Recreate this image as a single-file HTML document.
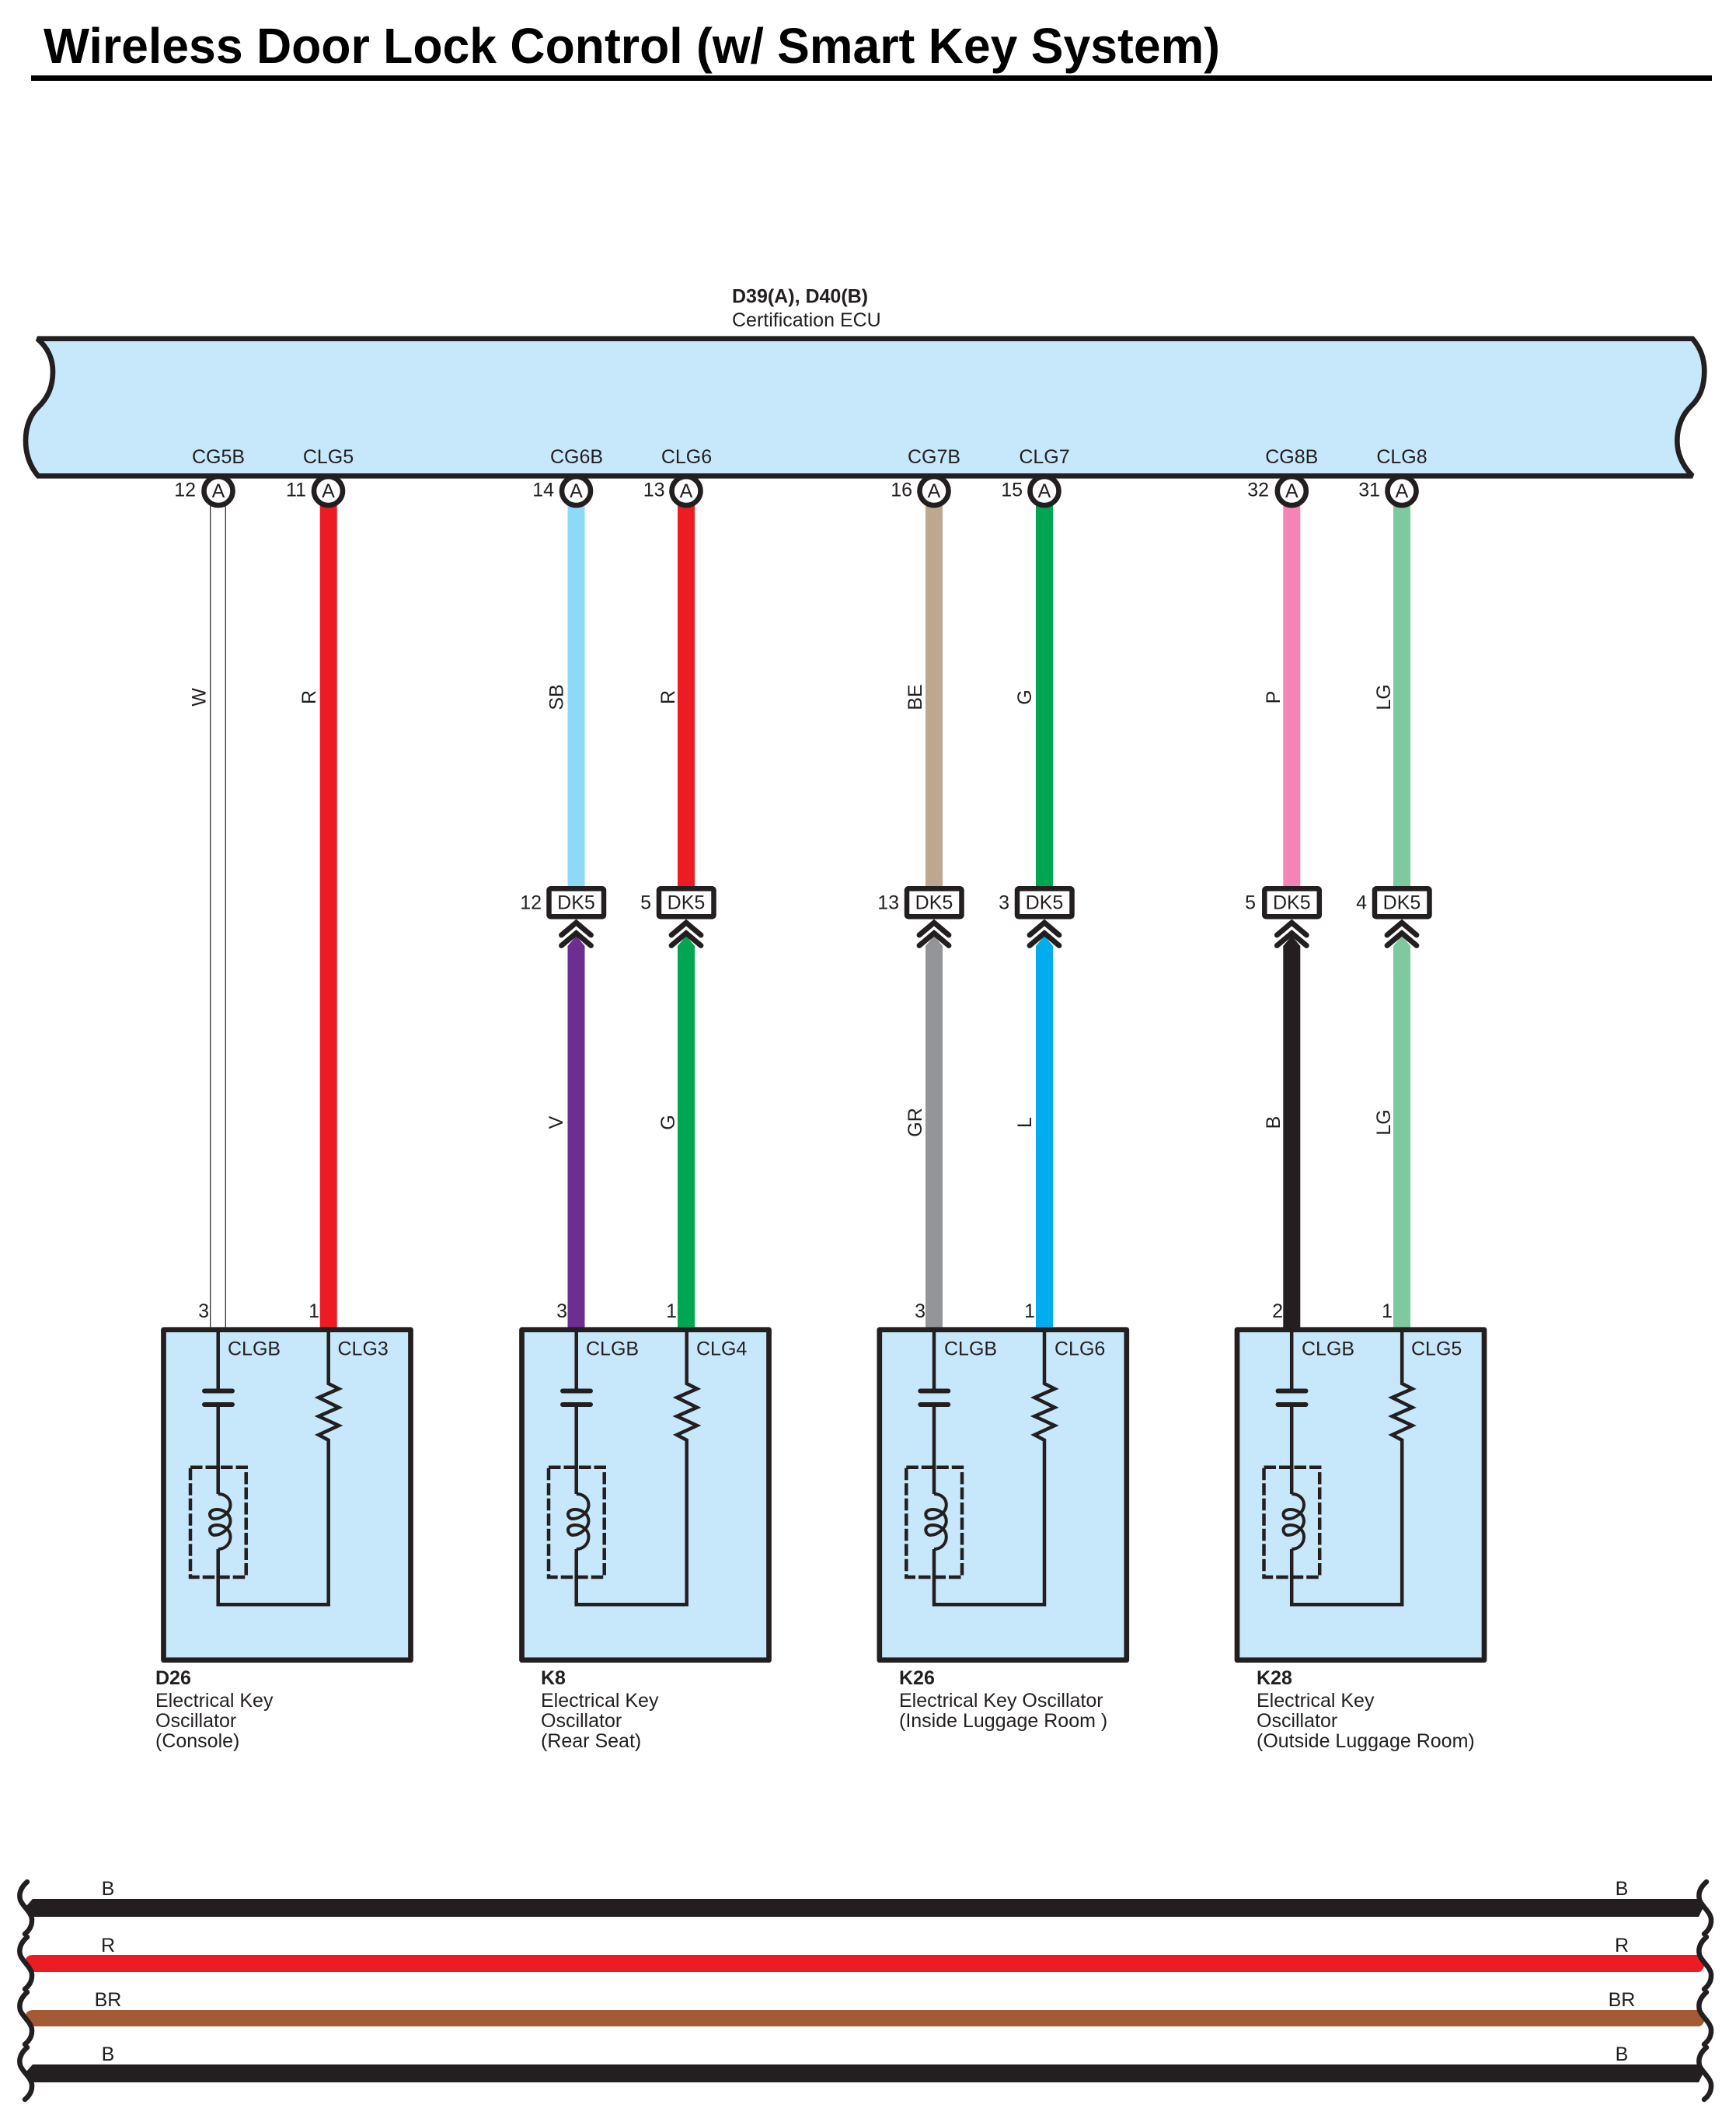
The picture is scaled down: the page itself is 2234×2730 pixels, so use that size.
<!DOCTYPE html>
<html><head><meta charset="utf-8"><style>
html,body{margin:0;padding:0;background:#fff}
svg{display:block}
text{font-family:"Liberation Sans",sans-serif;font-size:25px;fill:#231f20}
.m{text-anchor:middle}.e{text-anchor:end}.b{font-weight:bold}
</style></head><body>
<svg xmlns="http://www.w3.org/2000/svg" width="2234" height="2730" viewBox="0 0 2234 2730">
<defs>
<g id="box">
<rect x="210.5" y="1710.7" width="318" height="425" fill="#c7e8fa" stroke="#231f20" stroke-width="6.7" stroke-linejoin="round"/>
<g fill="none" stroke="#231f20" stroke-width="4.5">
<path d="M280.7 1711V1790M280.7 1807V1922M280.7 1993V2064.3H422.7V1852.7L410 1846L436 1834L410 1822L436 1810.7L410 1798L436 1786.7L422.7 1780V1711"/>
<path d="M263 1789.5H299M263 1807H299" stroke-width="6" stroke-linecap="round"/>
<path d="M280.7 1922C290 1922 296.5 1928 296.5 1936C296.5 1946 285 1954 276 1954C272 1954 270 1951 270 1948C270 1945 273 1942 279 1942C288 1942 296.5 1948 296.5 1957C296.5 1965 286 1975 276 1975C272 1975 270 1971 270 1968C270 1965 273 1962 279 1962C288 1962 296.5 1968 296.5 1977C296.5 1986 290 1993 280.7 1993" stroke-width="4"/>
<rect x="245" y="1887.7" width="71.7" height="141.3" stroke-dasharray="15.5 4"/>
</g>
</g>
<g id="dk">
<rect x="-35" y="1143.3" width="70.5" height="36" rx="2" fill="#fff" stroke="#231f20" stroke-width="6.5"/>
<path d="M-19 1203L0 1187L19 1203M-19 1216.5L0 1200.5L19 1216.5" fill="none" stroke="#231f20" stroke-width="6.8" stroke-linecap="round" stroke-linejoin="miter"/>
</g>
<circle id="pin" r="18.5" fill="#fff" stroke="#231f20" stroke-width="6.6"/>
<path id="sqL" d="M35 2421C27 2428 24 2436 26 2444C29 2453 42 2461 41 2471C41 2478 37 2484 32 2488" fill="none" stroke="#231f20" stroke-width="6.5" stroke-linecap="round"/>
<path id="sqR" d="M2196 2421C2188 2428 2185 2436 2187 2444C2190 2453 2203 2461 2202 2471C2202 2478 2198 2484 2193 2488" fill="none" stroke="#231f20" stroke-width="6.5" stroke-linecap="round"/>
</defs>

<text x="56" y="81" class="b" style="font-size:64px;fill:#000" textLength="1514" lengthAdjust="spacingAndGlyphs">Wireless Door Lock Control (w/ Smart Key System)</text>
<rect x="40" y="97" width="2163" height="7" fill="#000"/>

<text x="942" y="389.5" class="b">D39(A), D40(B)</text>
<text x="942" y="420">Certification ECU</text>

<path d="M48 435.7H2178C2187 446 2193.3 460 2193.3 477C2193.3 497 2188 511 2176.7 522C2165 533 2158.3 549 2158.3 567C2158.3 584 2165 599 2178 612.3H49C38 599 33 584 33 567C33 549 39 533 50 523C62 511 68 497 68 478C68 460 60 446 48 435.7Z" fill="#c7e8fa" stroke="#231f20" stroke-width="6.7" stroke-miterlimit="2"/>

<!-- wires -->
<g>
<rect x="270.7" y="640" width="19.6" height="1070" fill="#fff" stroke="#231f20" stroke-width="1.2"/>
<rect x="411.7" y="640" width="22" height="1070" fill="#ed1c24"/>
<rect x="730.5" y="640" width="22" height="505" fill="#8ed8f8"/>
<rect x="872" y="640" width="22" height="505" fill="#ed1c24"/>
<rect x="1191" y="640" width="22" height="505" fill="#bba88f"/>
<rect x="1333" y="640" width="22" height="505" fill="#00a651"/>
<rect x="1651.3" y="640" width="22" height="505" fill="#f484b4"/>
<rect x="1793" y="640" width="22" height="505" fill="#7fc99e"/>
<path d="M730.5 1708V1217L741.5 1204L752.5 1217V1708Z" fill="#6c2f91"/>
<path d="M872 1708V1217L883 1204L894 1217V1708Z" fill="#00a651"/>
<path d="M1191 1708V1217L1202 1204L1213 1217V1708Z" fill="#939598"/>
<path d="M1333 1708V1217L1344 1204L1355 1217V1708Z" fill="#00aeef"/>
<path d="M1651.3 1708V1217L1662.3 1204L1673.3 1217V1708Z" fill="#231f20"/>
<path d="M1793 1708V1217L1804 1204L1815 1217V1708Z" fill="#7fc99e"/>
</g>

<!-- pins -->
<use href="#pin" x="281" y="631.6"/><use href="#pin" x="422.5" y="631.6"/>
<use href="#pin" x="741.5" y="631.6"/><use href="#pin" x="883" y="631.6"/>
<use href="#pin" x="1202" y="631.6"/><use href="#pin" x="1344" y="631.6"/>
<use href="#pin" x="1662.3" y="631.6"/><use href="#pin" x="1804" y="631.6"/>
<text class="m" x="281" y="640">A</text><text class="m" x="422.5" y="640">A</text>
<text class="m" x="741.5" y="640">A</text><text class="m" x="883" y="640">A</text>
<text class="m" x="1202" y="640">A</text><text class="m" x="1344" y="640">A</text>
<text class="m" x="1662.3" y="640">A</text><text class="m" x="1804" y="640">A</text>
<text class="m" x="281" y="596">CG5B</text><text class="m" x="422.5" y="596">CLG5</text>
<text class="m" x="742" y="596">CG6B</text><text class="m" x="883.5" y="596">CLG6</text>
<text class="m" x="1202" y="596">CG7B</text><text class="m" x="1344" y="596">CLG7</text>
<text class="m" x="1662.3" y="596">CG8B</text><text class="m" x="1804" y="596">CLG8</text>
<text class="e" x="252" y="638.5">12</text><text class="e" x="394" y="638.5">11</text>
<text class="e" x="713" y="638.5">14</text><text class="e" x="855.5" y="638.5">13</text>
<text class="e" x="1174" y="638.5">16</text><text class="e" x="1316" y="638.5">15</text>
<text class="e" x="1633" y="638.5">32</text><text class="e" x="1776" y="638.5">31</text>

<!-- wire labels -->
<text class="m" transform="translate(264.5 897) rotate(-90)">W</text>
<text class="m" transform="translate(406 897) rotate(-90)">R</text>
<text class="m" transform="translate(724.5 897) rotate(-90)">SB</text>
<text class="m" transform="translate(868 897) rotate(-90)">R</text>
<text class="m" transform="translate(1186 897) rotate(-90)">BE</text>
<text class="m" transform="translate(1327 897) rotate(-90)">G</text>
<text class="m" transform="translate(1647 897) rotate(-90)">P</text>
<text class="m" transform="translate(1789 897) rotate(-90)">LG</text>
<text class="m" transform="translate(724 1444) rotate(-90)">V</text>
<text class="m" transform="translate(868 1444) rotate(-90)">G</text>
<text class="m" transform="translate(1186 1444) rotate(-90)">GR</text>
<text class="m" transform="translate(1327 1444) rotate(-90)">L</text>
<text class="m" transform="translate(1647 1444) rotate(-90)">B</text>
<text class="m" transform="translate(1789 1444) rotate(-90)">LG</text>

<!-- DK5 -->
<use href="#dk" x="741.5"/><use href="#dk" x="883"/><use href="#dk" x="1202"/><use href="#dk" x="1344"/><use href="#dk" x="1662.3"/><use href="#dk" x="1804"/>
<text class="m" x="741.5" y="1169.5">DK5</text><text class="m" x="883" y="1169.5">DK5</text>
<text class="m" x="1202" y="1169.5">DK5</text><text class="m" x="1344" y="1169.5">DK5</text>
<text class="m" x="1662.3" y="1169.5">DK5</text><text class="m" x="1804" y="1169.5">DK5</text>
<text class="e" x="697" y="1169.5">12</text><text class="e" x="838" y="1169.5">5</text>
<text class="e" x="1157" y="1169.5">13</text><text class="e" x="1299" y="1169.5">3</text>
<text class="e" x="1616" y="1169.5">5</text><text class="e" x="1759" y="1169.5">4</text>

<!-- boxes -->
<use href="#box"/><use href="#box" x="461"/><use href="#box" x="921.3"/><use href="#box" x="1381.5"/>
<text class="e" x="269" y="1695">3</text><text class="e" x="411" y="1695">1</text>
<text class="e" x="730" y="1695">3</text><text class="e" x="871" y="1695">1</text>
<text class="e" x="1191" y="1695">3</text><text class="e" x="1332" y="1695">1</text>
<text class="e" x="1651" y="1695">2</text><text class="e" x="1792" y="1695">1</text>

<text x="293" y="1743.5">CLGB</text><text x="434.5" y="1743.5">CLG3</text>
<text x="754" y="1743.5">CLGB</text><text x="896" y="1743.5">CLG4</text>
<text x="1215" y="1743.5">CLGB</text><text x="1357" y="1743.5">CLG6</text>
<text x="1675" y="1743.5">CLGB</text><text x="1816" y="1743.5">CLG5</text>

<text x="200" y="2167" class="b">D26</text>
<text x="200" y="2196">Electrical Key</text><text x="200" y="2222">Oscillator</text><text x="200" y="2248">(Console)</text>
<text x="696" y="2167" class="b">K8</text>
<text x="696" y="2196">Electrical Key</text><text x="696" y="2222">Oscillator</text><text x="696" y="2248">(Rear Seat)</text>
<text x="1157" y="2167" class="b">K26</text>
<text x="1157" y="2196">Electrical Key Oscillator</text><text x="1157" y="2222">(Inside Luggage Room )</text>
<text x="1617" y="2167" class="b">K28</text>
<text x="1617" y="2196">Electrical Key</text><text x="1617" y="2222">Oscillator</text><text x="1617" y="2248">(Outside Luggage Room)</text>

<!-- bus -->
<path d="M42 2443H2186L2193 2452L2186 2466H42L34 2452Z" fill="#231f20"/>
<path d="M42 2515H2186L2193 2530Q2190 2537 2186 2537H42L33 2520Q36 2515 42 2515Z" fill="#ed1c24"/>
<path d="M42 2586H2186L2193 2601Q2190 2607 2186 2607H42L33 2591Q36 2586 42 2586Z" fill="#a45a35"/>
<path d="M42 2656H2186L2193 2665L2186 2679H42L34 2665Z" fill="#231f20"/>
<use href="#sqL"/><use href="#sqL" y="71"/><use href="#sqL" y="142"/><use href="#sqL" y="213"/>
<use href="#sqR"/><use href="#sqR" y="71"/><use href="#sqR" y="142"/><use href="#sqR" y="213"/>
<text class="m" x="139" y="2438">B</text><text class="m" x="139" y="2511">R</text><text class="m" x="139" y="2581">BR</text><text class="m" x="139" y="2651">B</text>
<text class="m" x="2087" y="2438">B</text><text class="m" x="2087" y="2511">R</text><text class="m" x="2087" y="2581">BR</text><text class="m" x="2087" y="2651">B</text>
</svg>
</body></html>
